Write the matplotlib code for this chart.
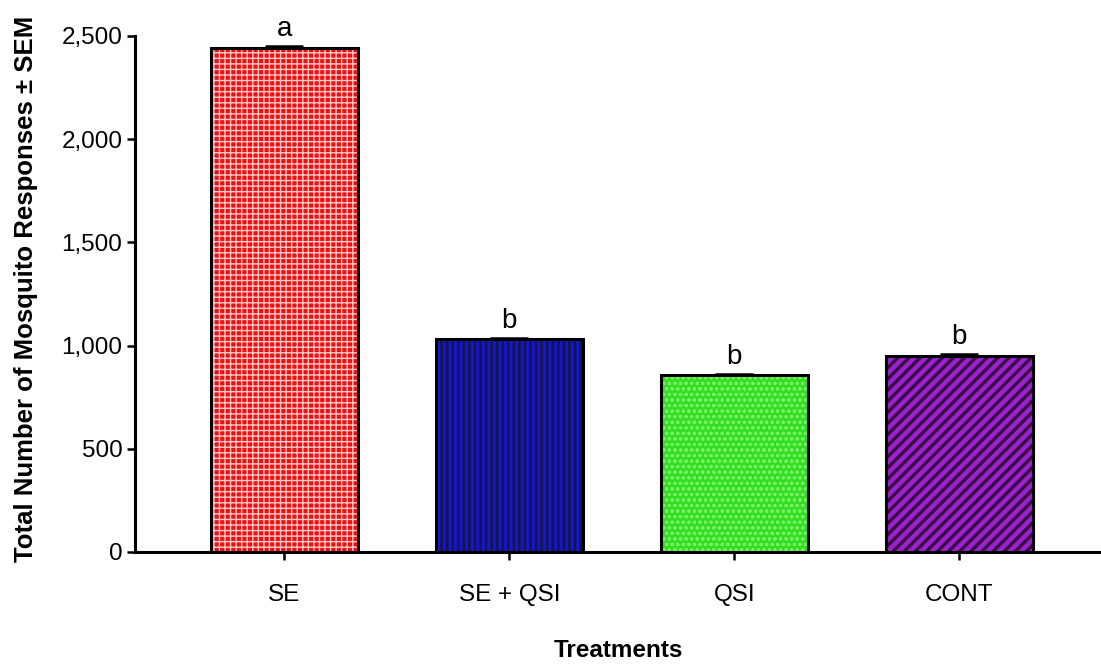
import matplotlib
matplotlib.use("Agg")
import matplotlib.pyplot as plt
from matplotlib.ticker import FuncFormatter

categories = ["SE", "SE + QSI", "QSI", "CONT"]
values = [2442, 1030, 856, 950]
sem = [8, 6, 5, 7]
letters = ["a", "b", "b", "b"]

face_colors = ["#ee1111", "#1515d8", "#33dd22", "#9922cc"]
hatch_colors = ["#ffc8c8", "#15154a", "#77f066", "#3a0a45"]
hatches = ["+++", "|||", "ooo", "///"]
hatch_lws = [1.0, 2.0, 0.8, 2.4]

plt.rcParams['font.family'] = ['Liberation Sans', 'DejaVu Sans']

fig = plt.figure(figsize=(11.01, 6.66), dpi=100)
ax = fig.add_axes([0.1226, 0.1712, 0.8774, 0.7748])

x = list(range(len(categories)))
width = 0.655

for i in x:
    ax.bar(x[i], values[i], width=width, color=face_colors[i], edgecolor="none", zorder=2)
    with plt.rc_context({'hatch.linewidth': hatch_lws[i]}):
        ax.bar(x[i], values[i], width=width, facecolor="none", edgecolor=hatch_colors[i],
               hatch=hatches[i], linewidth=0, zorder=3)
    ax.bar(x[i], values[i], width=width, facecolor="none", edgecolor="black", linewidth=2.2, zorder=4)

ax.errorbar(x, values, yerr=[[0] * len(sem), sem], fmt="none", ecolor="black",
            elinewidth=1.8, capsize=14, capthick=1.8, zorder=5)

for i in x:
    ax.text(x[i], values[i] + sem[i] + 22, letters[i], ha="center", va="bottom", fontsize=20)

ax.set_xlim(-0.664, 3.63)
ax.set_ylim(0, 2500)
ax.set_yticks([0, 500, 1000, 1500, 2000, 2500])
ax.yaxis.set_major_formatter(FuncFormatter(lambda v, p: f"{int(v):,}"))
ax.set_xticks(x)
ax.set_xticklabels(categories)

for s in ["top", "right"]:
    ax.spines[s].set_visible(False)
for s in ["left", "bottom"]:
    ax.spines[s].set_linewidth(2.2)

ax.tick_params(axis="y", length=6, width=1.8, labelsize=17.5, pad=3, colors="black")
ax.tick_params(axis="x", length=6, width=1.8, labelsize=17.5, pad=17, colors="black")

ax.set_xlabel("Treatments", fontsize=17.5, fontweight="bold", labelpad=24)
ax.set_ylabel("Total Number of Mosquito Responses \u00b1 SEM", fontsize=18.5, fontweight="bold")
ax.yaxis.set_label_coords(-0.1, 0.51)

fig.savefig("out.png", dpi=100)
